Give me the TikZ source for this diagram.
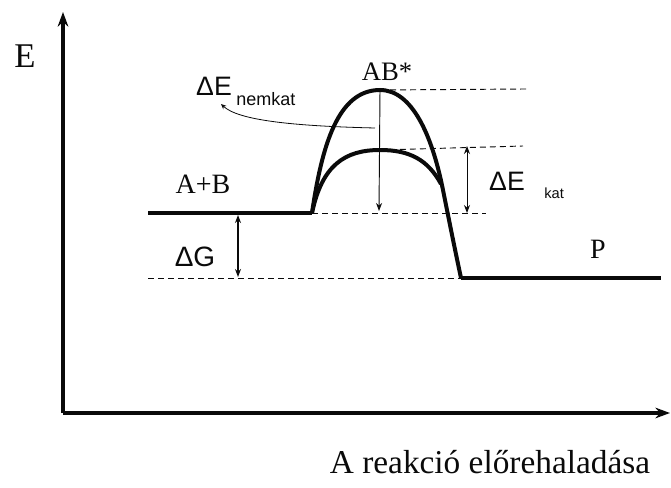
\documentclass[tikz,border=0pt]{standalone}
\usepackage{fontspec}
\setmainfont{Liberation Serif}
\setsansfont{Liberation Sans}
\definecolor{ink}{HTML}{0A0A0A}
\usetikzlibrary{arrows.meta, positioning}
\tikzset{
  axis/.style={draw=ink, line width=3pt, -{Stealth[length=11pt,width=8pt]}},
  level/.style={draw=ink, line width=3pt},
  curve/.style={draw=ink, line width=3pt},
  guide/.style={draw=ink, line width=0.7pt, dash pattern=on 4.5pt off 3pt},
  dim/.style={draw=ink, line width=0.7pt,
    {Stealth[length=6pt,width=4.5pt]}-{Stealth[length=6pt,width=4.5pt]}},
  dimone/.style={draw=ink, line width=0.7pt, -{Stealth[length=6pt,width=4.5pt]}},
  lead/.style={draw=ink, line width=0.6pt, -{Stealth[length=4pt,width=3.5pt]}},
  lbl/.style={font=\fontsize{#1}{#1}\selectfont, text=ink, inner sep=0pt},
  lbl/.default=21,
  slbl/.style={font=\sffamily\fontsize{#1}{#1}\selectfont, text=ink, inner sep=0pt},
  slbl/.default=20,
}
\begin{document}
\begin{tikzpicture}[x=0.75pt, y=-0.75pt]
  \useasboundingbox (0,0) rectangle (671,488);

  % Axes
  \coordinate (o) at (63,413);
  \coordinate (ytop) at (63,12);
  \coordinate (xend) at (670,413);
  \draw[axis] (o) -- (ytop);
  \draw[axis] (o) -- (xend);
  \node[lbl=26] (elab) at (25,56) {E};
  \node[lbl=25] (xlab) at (490,462) {A reakció előrehaladása};

  % Energy levels
  \coordinate (r0) at (148,213);
  \coordinate (r1) at (312,213);
  \coordinate (p0) at (461,278);
  \coordinate (p1) at (661,278);
  \coordinate (peak) at (380,90);
  \coordinate (kpeak) at (380,150);
  \draw[level] (r0) -- (r1);
  \draw[level] (p0) -- (p1);

  % Barriers
  \draw[curve] (r1) .. controls (322,145) and (338,90) .. (peak)
    .. controls (412,90) and (432,135) .. (443,190)
    .. controls (450,225) and (455,250) .. (p0);
  \draw[curve] (r1) .. controls (322,165) and (345,150) .. (kpeak)
    .. controls (410,150) and (428,160) .. (441,184);

  % Dashed guides
  \coordinate (rg) at (486,213);
  \coordinate (pg) at (148,278);
  \coordinate (tg) at (526,89);
  \coordinate (kg) at (523,146);
  \draw[guide] (r1) -- (rg);
  \draw[guide] (pg) -- (p0);
  \draw[guide] (peak) -- (tg);
  \draw[guide] (kpeak) -- (kg);

  % Differences
  \coordinate (nb) at (379,211);
  \coordinate (kt) at (467,146);
  \coordinate (kb) at (467,213);
  \coordinate (gt) at (238,215);
  \coordinate (gb) at (238,277);
  \draw[dimone] (peak) -- (nb);
  \draw[dim] (kt) -- (kb);
  \draw[dim, line width=1.2pt] (gt) -- (gb);

  % Labels
  \node[lbl] (ab) at (203,184) {A+B};
  \node[lbl=20] (ts) at (387,72) {AB*};
  \node[lbl] (p) at (598,249) {P};
  \node[slbl=21] (dg) at (195,257) {ΔG};
  \node[slbl] (den) at (214,86) {ΔE};
  \node[slbl=13.5, anchor=west] (densub) at (236,99) {nemkat};
  \node[slbl] (dek) at (507,181) {ΔE};
  \node[slbl=11, anchor=west] (deksub) at (544,193) {kat};

  \coordinate (lh) at (375,128);
  \coordinate (lt) at (221,104);
  \draw[lead] (lh) .. controls (290,126) and (238,120) .. (lt);
\end{tikzpicture}
\end{document}
